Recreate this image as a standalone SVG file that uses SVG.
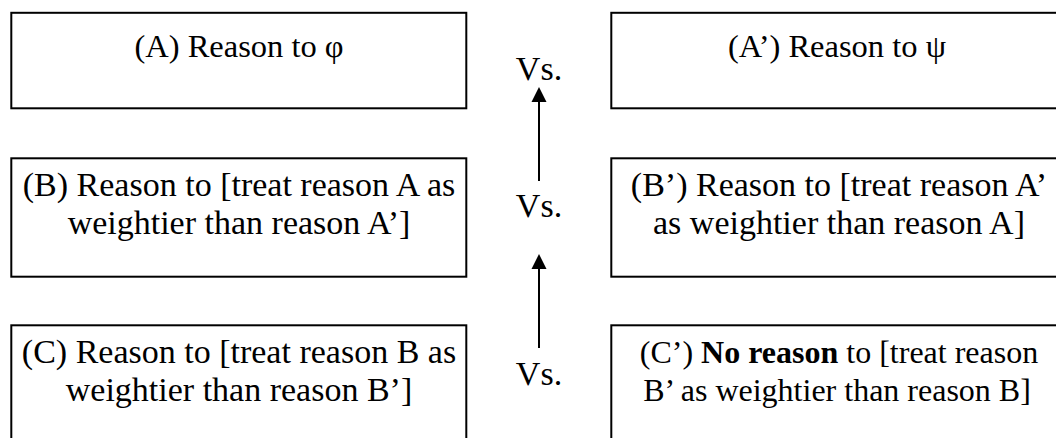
<svg xmlns="http://www.w3.org/2000/svg" width="1056" height="438" viewBox="0 0 1056 438">
<defs>
<style>
.box{fill:#fff;stroke:#000;stroke-width:2}
.t{font-family:"Liberation Serif","Times New Roman",serif;font-size:34px;fill:#000;text-anchor:middle}
.s{font-size:32.5px}
.c2{font-size:32px}
.shaft{stroke:#000;stroke-width:2;fill:none}
.head{fill:#000}
</style>
</defs>
<rect width="1056" height="438" fill="#fff"/>
<g id="nodeA">
<rect class="box" x="11.3" y="12.8" width="455" height="95.5"/>
<text class="t s" x="239" y="57">(A) Reason to φ</text>
</g>
<g id="nodeA2">
<rect class="box" x="611.3" y="12.8" width="455" height="95.5"/>
<text class="t s" x="837" y="57">(A’) Reason to ψ</text>
</g>
<g id="nodeB">
<rect class="box" x="11.3" y="158.3" width="455" height="118.4"/>
<text class="t" x="239" y="196">(B) Reason to [treat reason A as</text>
<text class="t" x="239" y="233.5">weightier than reason A’]</text>
</g>
<g id="nodeB2">
<rect class="box" x="611.3" y="158.3" width="455" height="118.4"/>
<text class="t" x="839" y="196">(B’) Reason to [treat reason A’</text>
<text class="t" x="839" y="233.5">as weightier than reason A]</text>
</g>
<g id="nodeC">
<rect class="box" x="11.3" y="325.3" width="455" height="130"/>
<text class="t" x="239" y="363">(C) Reason to [treat reason B as</text>
<text class="t" x="239" y="400.5">weightier than reason B’]</text>
</g>
<g id="nodeC2">
<rect class="box" x="611.3" y="325.3" width="455" height="130"/>
<text class="t c2" x="839" y="363">(C’) <tspan font-weight="bold">No reason</tspan> to [treat reason</text>
<text class="t c2" x="837" y="400.5">B’ as weightier than reason B]</text>
</g>
<g id="vs-labels">
<text class="t" x="539" y="80">Vs.</text>
<text class="t" x="539" y="217">Vs.</text>
<text class="t" x="539" y="385">Vs.</text>
</g>
<g id="connectors">
<line class="shaft" x1="539" y1="181" x2="539" y2="100"/>
<polygon class="head" points="539,87 531.5,102 546.5,102"/>
<line class="shaft" x1="539" y1="348" x2="539" y2="268"/>
<polygon class="head" points="539,254 531.5,269 546.5,269"/>
</g>
</svg>
